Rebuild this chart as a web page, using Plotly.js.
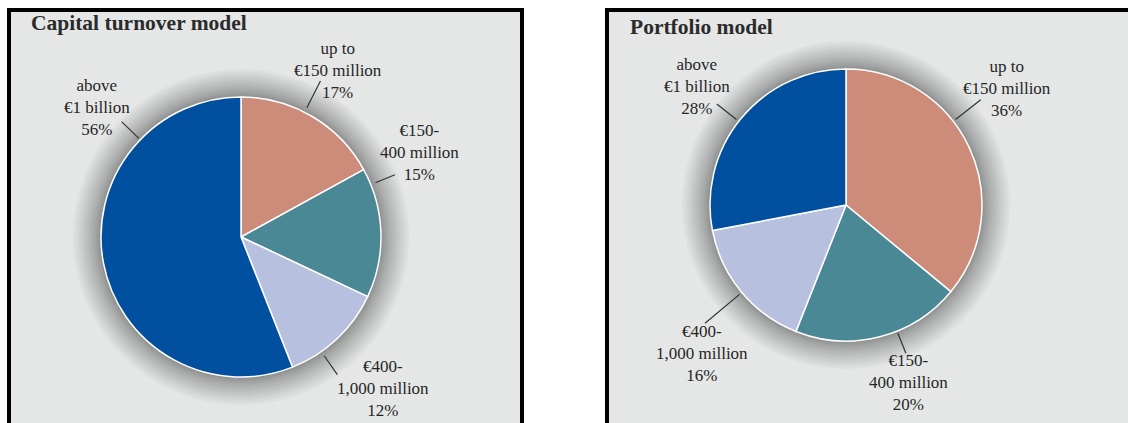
<!DOCTYPE html>
<html>
<head>
<meta charset="utf-8">
<script src="https://cdn.plot.ly/plotly-3.0.1.min.js"></script>
<style>
html,body{margin:0;padding:0;background:#ffffff;}
#chart{width:1128px;height:423px;}
</style>
</head>
<body>
<div id="chart"></div>
<script>
// ---------- data ----------
const categories = ["up to €150 million", "€150-400 million", "€400-1,000 million", "above €1 billion"];
const labelLines = [["up to", "€150 million"], ["€150-", "400 million"], ["€400-", "1,000 million"], ["above", "€1 billion"]];
const capitalValues = [17, 15, 12, 56];
const portfolioValues = [36, 20, 16, 28];
const panelTitles = ["Capital turnover model", "Portfolio model"];
const sliceColors = ["#cd8b79", "#4b8896", "#b8c0e0", "#00509f"];

// ---------- layout helpers ----------
const W = 1128, H = 423;
const px = v => v / W;
const py = v => 1 - v / H;

const panels = [
  {
    title: panelTitles[0], values: capitalValues,
    cx: 241, cy: 237, r: 140, titleX: 29, titleY: 23,
    frame: {x0: 9, x1: 522},
    labels: [
      {x: 338, y: 70, a: 27, r0: 5, r1: 35},
      {x: 419, y: 152, a: 68, r0: 5, r1: 26},
      {x: 383, y: 388, a: 145, r0: 5, r1: 28},
      {x: 97, y: 107, a: 314, r0: 2, r1: 26}
    ]
  },
  {
    title: panelTitles[1], values: portfolioValues,
    cx: 846, cy: 205, r: 136, titleX: 628, titleY: 27,
    frame: {x0: 607, x1: 1140},
    labels: [
      {x: 1007, y: 89, a: 52, r0: 3, r1: 35},
      {x: 908, y: 382, a: 158, r0: 2, r1: 24},
      {x: 702, y: 353, a: 230, r0: 3, r1: 48},
      {x: 697, y: 87, a: 308, r0: 3, r1: 28}
    ]
  }
];

const labelFont = {family: "Liberation Serif, Times New Roman, serif", size: 17, color: "#262626"};
const titleFont = {family: "Liberation Serif, Times New Roman, serif", size: 21.5, color: "#2b2b2b", weight: "bold"};

const traces = [];
const shapes = [];
const annotations = [];

panels.forEach(p => {
  // panel frame
  shapes.push({
    type: "rect", xref: "paper", yref: "paper", layer: "below",
    x0: px(p.frame.x0), x1: px(p.frame.x1), y0: py(440), y1: py(10),
    fillcolor: "#e5e7e7", line: {color: "#000000", width: 4}
  });
  // soft shadow (glow) around the pie
  const N = 18, spread = 28;
  for (let k = N; k >= 1; k--) {
    const rr = p.r + spread * Math.pow(k / N, 1.6);
    shapes.push({
      type: "circle", xref: "paper", yref: "paper", layer: "below",
      xsizemode: "pixel", ysizemode: "pixel",
      xanchor: px(p.cx), yanchor: py(p.cy),
      x0: -rr, x1: rr, y0: -rr, y1: rr,
      fillcolor: "#202020", opacity: 0.03, line: {width: 0}
    });
  }
  // pie
  traces.push({
    type: "pie",
    labels: categories,
    values: p.values,
    sort: false,
    direction: "clockwise",
    rotation: 0,
    textinfo: "none",
    hoverinfo: "skip",
    showlegend: false,
    marker: {colors: sliceColors, line: {color: "#ffffff", width: 1.5}},
    domain: {
      x: [px(p.cx - p.r), px(p.cx + p.r)],
      y: [py(p.cy + p.r), py(p.cy - p.r)]
    }
  });
  // title
  annotations.push({
    xref: "paper", yref: "paper", x: px(p.titleX), y: py(p.titleY),
    xanchor: "left", yanchor: "middle", showarrow: false,
    text: "<b>" + p.title + "</b>", font: titleFont
  });
  // labels and leader lines
  p.labels.forEach((L, i) => {
    const rad = L.a * Math.PI / 180;
    const rin = p.r + L.r0, rout = p.r + L.r1;
    shapes.push({
      type: "line", xref: "paper", yref: "paper",
      x0: px(p.cx + rin * Math.sin(rad)), y0: py(p.cy - rin * Math.cos(rad)),
      x1: px(p.cx + rout * Math.sin(rad)), y1: py(p.cy - rout * Math.cos(rad)),
      line: {color: "#333333", width: 1.2}
    });
    annotations.push({
      xref: "paper", yref: "paper", x: px(L.x), y: py(L.y),
      xanchor: "center", yanchor: "middle", showarrow: false, align: "center",
      text: labelLines[i].join("<br>") + "<br>" + p.values[i] + "%",
      font: labelFont
    });
  });
});

const layout = {
  width: W, height: H,
  margin: {l: 0, r: 0, t: 0, b: 0},
  paper_bgcolor: "#ffffff",
  plot_bgcolor: "#ffffff",
  showlegend: false,
  shapes: shapes,
  annotations: annotations
};

Plotly.newPlot("chart", traces, layout, {displayModeBar: false, staticPlot: true});
</script>
</body>
</html>
